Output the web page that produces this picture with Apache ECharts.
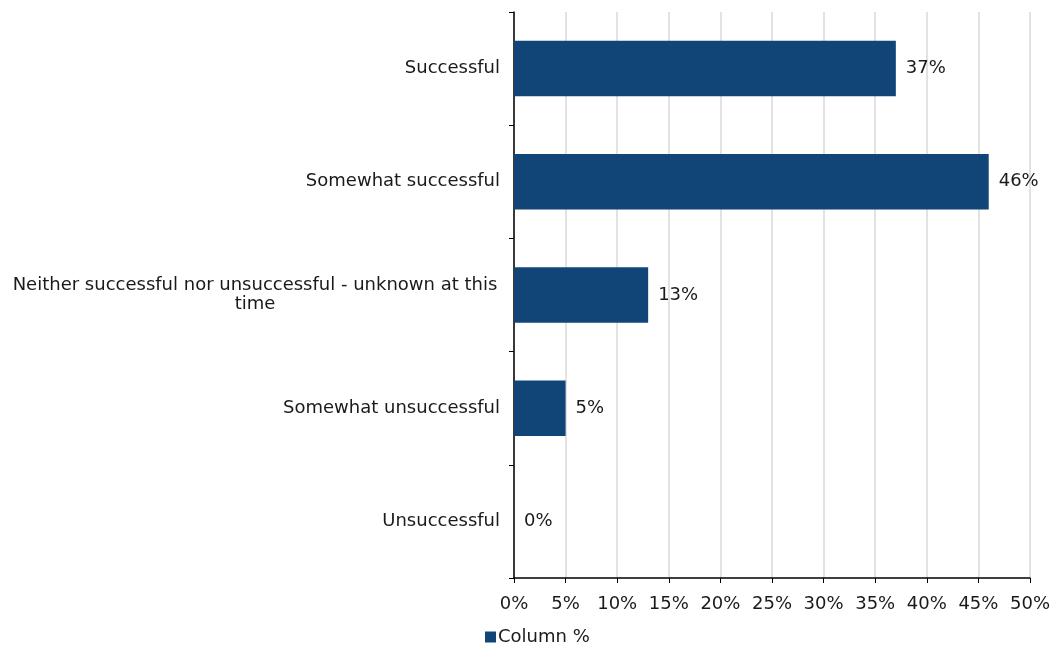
<!DOCTYPE html>
<html><head><meta charset="utf-8">
<script src="https://cdn.jsdelivr.net/npm/echarts@6/dist/echarts.min.js"></script>
<style>html,body{margin:0;padding:0;background:#fff}#c{width:1053px;height:649px}</style>
</head><body><div id="c"></div>
<script>
const categories = ["Successful", "Somewhat successful", "Neither successful nor unsuccessful - unknown at this time", "Somewhat unsuccessful", "Unsuccessful"];
const values = [37, 46, 13, 5, 0];
const seriesName = "Column %";
const xTicks = [0, 5, 10, 15, 20, 25, 30, 35, 40, 45, 50];

const font = "Verdana, 'DejaVu Sans', sans-serif";
const fs = 18;
const chart = echarts.init(document.getElementById('c'));
chart.setOption({
  animation: false,
  textStyle: {fontFamily: font},
  grid: {left: 514, right: 21, top: 12, bottom: 71, containLabel: false},
  legend: {
    top: 623, left: 480, itemWidth: 11, itemHeight: 11, itemGap: 4,
    icon: 'rect',
    textStyle: {fontFamily: font, fontSize: fs, color: '#1a1a1a', padding: [0,0,0,-3]},
    data: [seriesName]
  },
  xAxis: {
    type: 'value', min: xTicks[0], max: xTicks[xTicks.length-1], interval: 5,
    axisLine: {show: true, lineStyle: {color: '#000', width: 1.5}},
    axisTick: {show: true, length: 5, lineStyle: {color: '#000'}},
    splitLine: {show: true, lineStyle: {color: '#d9d9d9', width: 1.5}},
    axisLabel: {formatter: v => v + '%', fontFamily: font, fontSize: fs, color: '#1a1a1a', margin: 17}
  },
  yAxis: {
    type: 'category', data: categories, inverse: true,
    axisLine: {show: true, lineStyle: {color: '#000', width: 1.5}},
    axisTick: {show: true, length: 5, lineStyle: {color: '#000'}},
    axisLabel: {
      fontFamily: font, fontSize: fs, color: '#1a1a1a', margin: 14,
      formatter: v => v.length > 40 ? '{c|' + v.replace(' time', '\ntime') + '}' : v,
      rich: {c: {fontFamily: font, fontSize: fs, color: '#1a1a1a', align: 'center', width: 490, lineHeight: 19}}
    }
  },
  series: [{
    name: seriesName, type: 'bar', data: values, barWidth: '49%',
    itemStyle: {color: '#124577'},
    label: {show: true, position: 'right', distance: 10, formatter: p => p.value + '%',
      fontFamily: font, fontSize: fs, color: '#1a1a1a'}
  }]
});
</script></body></html>
